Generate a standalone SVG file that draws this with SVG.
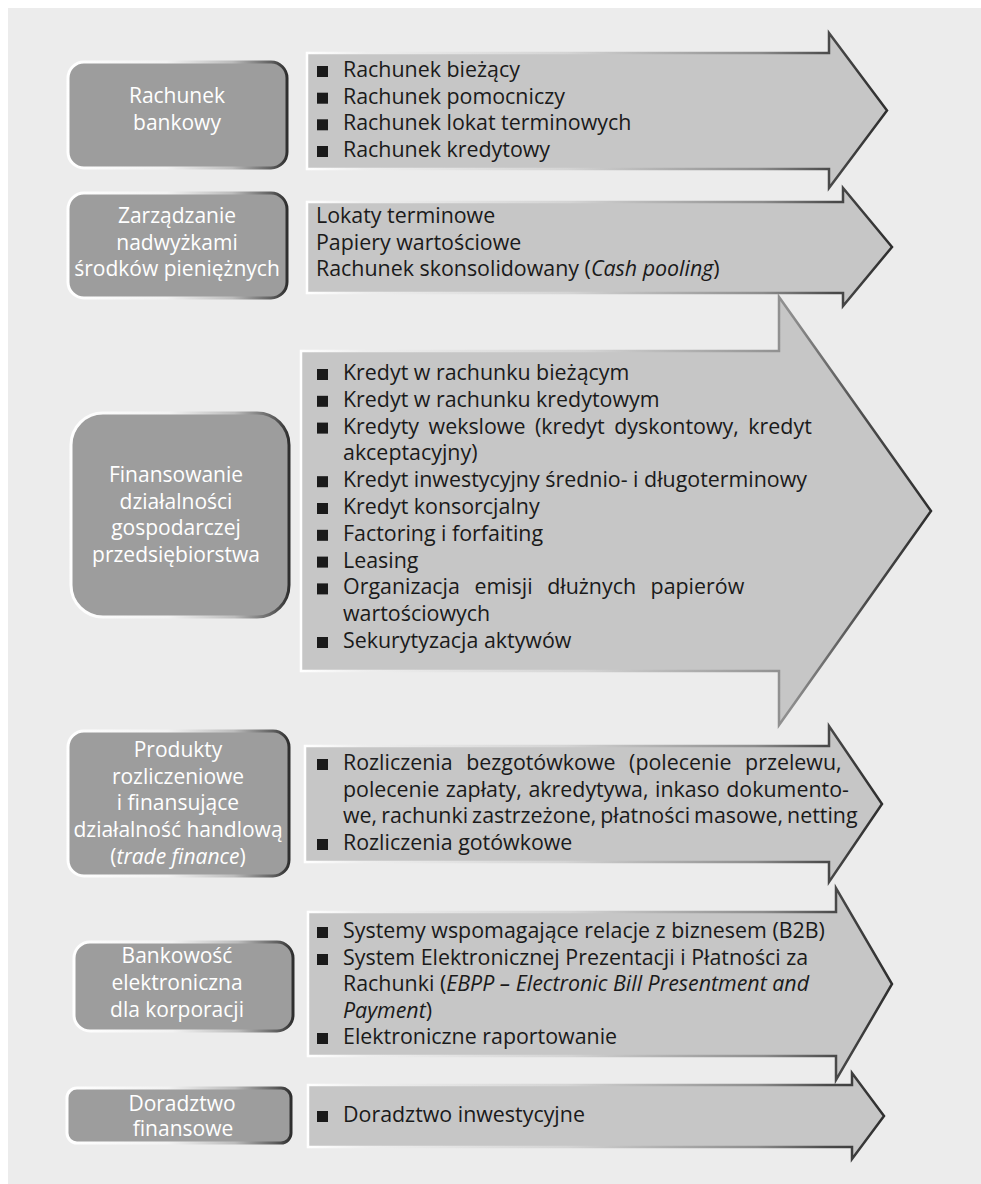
<svg xmlns="http://www.w3.org/2000/svg" width="981" height="1184" viewBox="0 0 981 1184">
  <defs>
    <!-- edge shading for the rounded category boxes: light on the left, dark on the right -->
    <linearGradient id="boxEdge" x1="0" y1="0" x2="1" y2="0">
      <stop offset="0" stop-color="#ffffff"/>
      <stop offset="0.45" stop-color="#f2f2f2"/>
      <stop offset="0.75" stop-color="#bcbcbc"/>
      <stop offset="0.93" stop-color="#5e5e5e"/>
      <stop offset="1" stop-color="#2e2e2e"/>
    </linearGradient>
    <!-- edge shading for the arrow panels -->
    <linearGradient id="arrowEdge" x1="0" y1="0" x2="1" y2="0">
      <stop offset="0" stop-color="#ffffff"/>
      <stop offset="0.1" stop-color="#eeeeee"/>
      <stop offset="0.45" stop-color="#d4d4d4"/>
      <stop offset="0.78" stop-color="#8c8c8c"/>
      <stop offset="0.9" stop-color="#4a4a4a"/>
      <stop offset="1" stop-color="#2e2e2e"/>
    </linearGradient>
    <rect id="bullet" width="11" height="11" fill="#1a1a1a"/>
  </defs>
  <style>
    .box { fill: #9d9d9d; stroke: url(#boxEdge); stroke-width: 3; }
    .panel { fill: #c6c6c6; stroke: url(#arrowEdge); stroke-width: 2.5; stroke-linejoin: miter; }
    .label { font-family: "Open Sans", "Noto Sans", sans-serif; font-size: 21px; fill: #ffffff; text-anchor: middle; }
    .item { font-family: "Open Sans", "Noto Sans", sans-serif; font-size: 21.4px; fill: #1a1a1a; }
    .it { font-style: italic; }
  </style>

  <rect x="8" y="8" width="973" height="1176" fill="#ececec"/>

  <!-- Rachunek bankowy -->
  <g id="rachunek-bankowy">
    <rect class="box" x="68" y="62" width="219" height="106" rx="16"/>
    <text class="label" x="177" y="103">Rachunek</text>
    <text class="label" x="177" y="130">bankowy</text>
  </g>
  <g id="rachunek-bankowy-items">
    <path class="panel" d="M307,53 L829,53 L829,33 L887,110.5 L829,188 L829,169 L307,169 Z"/>
    <use href="#bullet" x="317" y="66"/>
    <use href="#bullet" x="317" y="92.7"/>
    <use href="#bullet" x="317" y="119.3"/>
    <use href="#bullet" x="317" y="146"/>
    <text class="item" x="343" y="77">Rachunek bieżący</text>
    <text class="item" x="343" y="103.7">Rachunek pomocniczy</text>
    <text class="item" x="343" y="130.3">Rachunek lokat terminowych</text>
    <text class="item" x="343" y="157">Rachunek kredytowy</text>
  </g>

  <!-- Zarządzanie nadwyżkami -->
  <g id="zarzadzanie-nadwyzkami">
    <rect class="box" x="68" y="193" width="219" height="105" rx="16"/>
    <text class="label" x="177" y="223">Zarządzanie</text>
    <text class="label" x="177" y="250">nadwyżkami</text>
    <text class="label" x="177" y="276">środków pieniężnych</text>
  </g>
  <g id="zarzadzanie-nadwyzkami-items">
    <path class="panel" d="M307,202 L843,202 L843,188 L892,247 L843,306 L843,293 L307,293 Z"/>
    <text class="item" x="316" y="223">Lokaty terminowe</text>
    <text class="item" x="316" y="250">Papiery wartościowe</text>
    <text class="item" x="316" y="276">Rachunek skonsolidowany (<tspan class="it">Cash pooling</tspan>)</text>
  </g>

  <!-- Finansowanie działalności gospodarczej -->
  <g id="finansowanie">
    <rect class="box" x="71" y="413" width="218" height="204" rx="32"/>
    <text class="label" x="176" y="482">Finansowanie</text>
    <text class="label" x="176" y="508.7">działalności</text>
    <text class="label" x="176" y="535.3">gospodarczej</text>
    <text class="label" x="176" y="562">przedsiębiorstwa</text>
  </g>
  <g id="finansowanie-items">
    <path class="panel" d="M301,351 L779,351 L779,297 L931,511 L779,725 L779,671 L301,671 Z"/>
    <use href="#bullet" x="317" y="369"/>
    <use href="#bullet" x="317" y="395.8"/>
    <use href="#bullet" x="317" y="422.6"/>
    <use href="#bullet" x="317" y="476.2"/>
    <use href="#bullet" x="317" y="503"/>
    <use href="#bullet" x="317" y="529.8"/>
    <use href="#bullet" x="317" y="556.6"/>
    <use href="#bullet" x="317" y="583.4"/>
    <use href="#bullet" x="317" y="637"/>
    <text class="item" x="343" y="380">Kredyt w rachunku bieżącym</text>
    <text class="item" x="343" y="406.8">Kredyt w rachunku kredytowym</text>
    <text class="item" x="343" y="433.6" word-spacing="4">Kredyty wekslowe (kredyt dyskontowy, kredyt</text>
    <text class="item" x="343" y="460.4">akceptacyjny)</text>
    <text class="item" x="343" y="487.2">Kredyt inwestycyjny średnio- i długoterminowy</text>
    <text class="item" x="343" y="514">Kredyt konsorcjalny</text>
    <text class="item" x="343" y="540.8">Factoring i forfaiting</text>
    <text class="item" x="343" y="567.6">Leasing</text>
    <text class="item" x="343" y="594.4" word-spacing="9">Organizacja emisji dłużnych papierów</text>
    <text class="item" x="343" y="621.2">wartościowych</text>
    <text class="item" x="343" y="648">Sekurytyzacja aktywów</text>
  </g>

  <!-- Produkty rozliczeniowe -->
  <g id="produkty-rozliczeniowe">
    <rect class="box" x="68" y="731" width="221" height="145" rx="16"/>
    <text class="label" x="178" y="757">Produkty</text>
    <text class="label" x="178" y="783.7">rozliczeniowe</text>
    <text class="label" x="178" y="810.3">i finansujące</text>
    <text class="label" x="178" y="837">działalność handlową</text>
    <text class="label" x="178" y="863.7">(<tspan class="it">trade finance</tspan>)</text>
  </g>
  <g id="produkty-rozliczeniowe-items">
    <path class="panel" d="M305,746 L829,746 L829,726 L882,804 L829,882 L829,862 L305,862 Z"/>
    <use href="#bullet" x="317" y="759"/>
    <use href="#bullet" x="317" y="839"/>
    <text class="item" x="343" y="770" word-spacing="8">Rozliczenia bezgotówkowe (polecenie przelewu,</text>
    <text class="item" x="343" y="796.7" word-spacing="1">polecenie zapłaty, akredytywa, inkaso dokumento-</text>
    <text class="item" x="343" y="823.3" word-spacing="-1.5">we, rachunki zastrzeżone, płatności masowe, netting</text>
    <text class="item" x="343" y="850">Rozliczenia gotówkowe</text>
  </g>

  <!-- Bankowość elektroniczna -->
  <g id="bankowosc-elektroniczna">
    <rect class="box" x="74" y="942" width="219" height="89" rx="16"/>
    <text class="label" x="177" y="963">Bankowość</text>
    <text class="label" x="177" y="990">elektroniczna</text>
    <text class="label" x="177" y="1016.5">dla korporacji</text>
  </g>
  <g id="bankowosc-elektroniczna-items">
    <path class="panel" d="M308,912 L836,912 L836,888 L892,984 L836,1080 L836,1056 L308,1056 Z"/>
    <use href="#bullet" x="317" y="927"/>
    <use href="#bullet" x="317" y="954"/>
    <use href="#bullet" x="317" y="1033"/>
    <text class="item" x="343" y="938">Systemy wspomagające relacje z biznesem (B2B)</text>
    <text class="item" x="343" y="965">System Elektronicznej Prezentacji i Płatności za</text>
    <text class="item" x="343" y="991">Rachunki (<tspan class="it">EBPP – Electronic Bill Presentment and</tspan></text>
    <text class="item" x="343" y="1018"><tspan class="it">Payment</tspan>)</text>
    <text class="item" x="343" y="1044">Elektroniczne raportowanie</text>
  </g>

  <!-- Doradztwo finansowe -->
  <g id="doradztwo-finansowe">
    <rect class="box" x="67" y="1088" width="224" height="55" rx="10"/>
    <text class="label" x="182" y="1111">Doradztwo</text>
    <text class="label" x="183" y="1135.5">finansowe</text>
  </g>
  <g id="doradztwo-finansowe-items">
    <path class="panel" d="M308,1085 L852,1085 L852,1073 L884,1116 L852,1159 L852,1147 L308,1147 Z"/>
    <use href="#bullet" x="317" y="1111"/>
    <text class="item" x="343" y="1122">Doradztwo inwestycyjne</text>
  </g>
</svg>
